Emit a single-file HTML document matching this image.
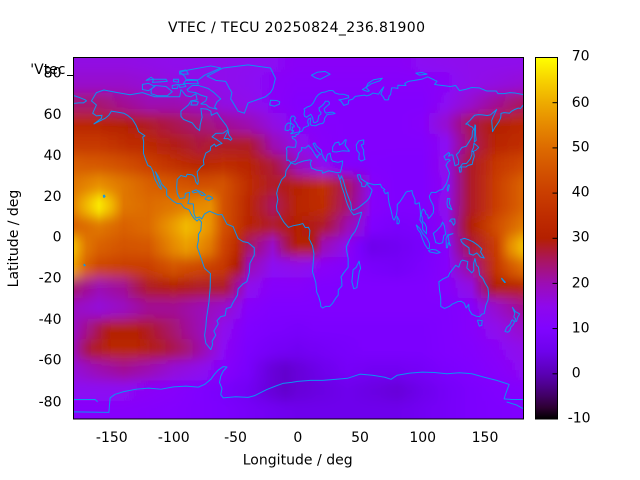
<!DOCTYPE html>
<html><head><meta charset="utf-8"><style>
html,body{margin:0;padding:0;background:#fff}
svg{display:block}
.c polygon,.c polyline{vector-effect:non-scaling-stroke}
</style></head><body>
<svg width="640" height="480" xmlns="http://www.w3.org/2000/svg" font-family="'DejaVu Sans','Liberation Sans',sans-serif" font-size="14" fill="#000">
<defs>
<clipPath id="pc"><rect x="74" y="58" width="449.5" height="361"/></clipPath>
<filter id="bl" filterUnits="userSpaceOnUse" x="40" y="20" width="520" height="440"><feGaussianBlur stdDeviation="0.3 6"/></filter>
<linearGradient id="g0" gradientUnits="userSpaceOnUse" x1="74.06" y1="0" x2="521.5" y2="0"><stop offset="0" stop-color="#9109e3"/><stop offset="11.11%" stop-color="#9109e3"/><stop offset="22.22%" stop-color="#8f08ec"/><stop offset="33.33%" stop-color="#8f08ec"/><stop offset="44.44%" stop-color="#8c07f3"/><stop offset="50%" stop-color="#8906f8"/><stop offset="72.22%" stop-color="#8906f8"/><stop offset="77.78%" stop-color="#8c07f3"/><stop offset="88.89%" stop-color="#8f08ec"/><stop offset="100%" stop-color="#8f08ec"/></linearGradient>
<linearGradient id="g1" gradientUnits="userSpaceOnUse" x1="74.06" y1="0" x2="521.5" y2="0"><stop offset="0" stop-color="#970bce"/><stop offset="11.11%" stop-color="#970bce"/><stop offset="16.67%" stop-color="#940ad9"/><stop offset="22.22%" stop-color="#9109e3"/><stop offset="33.33%" stop-color="#8f08ec"/><stop offset="44.44%" stop-color="#8906f8"/><stop offset="50%" stop-color="#8605fc"/><stop offset="77.78%" stop-color="#8605fc"/><stop offset="83.33%" stop-color="#8906f8"/><stop offset="88.89%" stop-color="#8f08ec"/><stop offset="94.44%" stop-color="#9109e3"/><stop offset="100%" stop-color="#940ad9"/></linearGradient>
<linearGradient id="g2" gradientUnits="userSpaceOnUse" x1="74.06" y1="0" x2="521.5" y2="0"><stop offset="0" stop-color="#a61474"/><stop offset="5.56%" stop-color="#a61474"/><stop offset="11.11%" stop-color="#a11096"/><stop offset="16.67%" stop-color="#9c0db4"/><stop offset="22.22%" stop-color="#9c0db4"/><stop offset="27.78%" stop-color="#9a0cc2"/><stop offset="33.33%" stop-color="#9109e3"/><stop offset="38.89%" stop-color="#8f08ec"/><stop offset="44.44%" stop-color="#8906f8"/><stop offset="50%" stop-color="#8305fe"/><stop offset="77.78%" stop-color="#8305fe"/><stop offset="83.33%" stop-color="#8c07f3"/><stop offset="88.89%" stop-color="#970bce"/><stop offset="94.44%" stop-color="#a11096"/><stop offset="100%" stop-color="#a91562"/></linearGradient>
<linearGradient id="g3" gradientUnits="userSpaceOnUse" x1="74.06" y1="0" x2="521.5" y2="0"><stop offset="0" stop-color="#bb2800"/><stop offset="5.56%" stop-color="#b92500"/><stop offset="11.11%" stop-color="#b42000"/><stop offset="16.67%" stop-color="#b01b28"/><stop offset="22.22%" stop-color="#ab174f"/><stop offset="27.78%" stop-color="#a61474"/><stop offset="33.33%" stop-color="#a11096"/><stop offset="38.89%" stop-color="#9c0db4"/><stop offset="44.44%" stop-color="#9109e3"/><stop offset="50%" stop-color="#8605fc"/><stop offset="61.11%" stop-color="#8305fe"/><stop offset="72.22%" stop-color="#8305fe"/><stop offset="77.78%" stop-color="#8605fc"/><stop offset="83.33%" stop-color="#970bce"/><stop offset="88.89%" stop-color="#ab174f"/><stop offset="94.44%" stop-color="#b42000"/><stop offset="100%" stop-color="#bb2800"/></linearGradient>
<linearGradient id="g4" gradientUnits="userSpaceOnUse" x1="74.06" y1="0" x2="521.5" y2="0"><stop offset="0" stop-color="#c63700"/><stop offset="5.56%" stop-color="#c63700"/><stop offset="11.11%" stop-color="#bf2d00"/><stop offset="16.67%" stop-color="#bb2800"/><stop offset="22.22%" stop-color="#b21e14"/><stop offset="27.78%" stop-color="#ad193c"/><stop offset="33.33%" stop-color="#b01b28"/><stop offset="38.89%" stop-color="#b01b28"/><stop offset="44.44%" stop-color="#9c0db4"/><stop offset="50%" stop-color="#8f08ec"/><stop offset="55.56%" stop-color="#8605fc"/><stop offset="61.11%" stop-color="#8305fe"/><stop offset="77.78%" stop-color="#8305fe"/><stop offset="83.33%" stop-color="#8c07f3"/><stop offset="88.89%" stop-color="#a91562"/><stop offset="94.44%" stop-color="#b92500"/><stop offset="100%" stop-color="#bf2d00"/></linearGradient>
<linearGradient id="g5" gradientUnits="userSpaceOnUse" x1="74.06" y1="0" x2="521.5" y2="0"><stop offset="0" stop-color="#d75c00"/><stop offset="5.56%" stop-color="#d55700"/><stop offset="11.11%" stop-color="#d14e00"/><stop offset="16.67%" stop-color="#ca3e00"/><stop offset="22.22%" stop-color="#c13000"/><stop offset="27.78%" stop-color="#b92500"/><stop offset="33.33%" stop-color="#bf2d00"/><stop offset="38.89%" stop-color="#b92500"/><stop offset="44.44%" stop-color="#ad193c"/><stop offset="50%" stop-color="#9a0cc2"/><stop offset="55.56%" stop-color="#8c07f3"/><stop offset="61.11%" stop-color="#8305fe"/><stop offset="72.22%" stop-color="#8004ff"/><stop offset="77.78%" stop-color="#8004ff"/><stop offset="83.33%" stop-color="#8f08ec"/><stop offset="88.89%" stop-color="#b01b28"/><stop offset="94.44%" stop-color="#c63700"/><stop offset="100%" stop-color="#ce4600"/></linearGradient>
<linearGradient id="g6" gradientUnits="userSpaceOnUse" x1="74.06" y1="0" x2="521.5" y2="0"><stop offset="0" stop-color="#e07700"/><stop offset="5.56%" stop-color="#e88f00"/><stop offset="11.11%" stop-color="#e07700"/><stop offset="16.67%" stop-color="#d96100"/><stop offset="22.22%" stop-color="#d55700"/><stop offset="27.78%" stop-color="#d14e00"/><stop offset="33.33%" stop-color="#d35300"/><stop offset="38.89%" stop-color="#bf2d00"/><stop offset="44.44%" stop-color="#b01b28"/><stop offset="50%" stop-color="#b72200"/><stop offset="55.56%" stop-color="#c13000"/><stop offset="61.11%" stop-color="#a91562"/><stop offset="66.67%" stop-color="#8605fc"/><stop offset="72.22%" stop-color="#8004ff"/><stop offset="77.78%" stop-color="#8004ff"/><stop offset="83.33%" stop-color="#8c07f3"/><stop offset="88.89%" stop-color="#b01b28"/><stop offset="94.44%" stop-color="#ca3e00"/><stop offset="100%" stop-color="#d96100"/></linearGradient>
<linearGradient id="g7" gradientUnits="userSpaceOnUse" x1="74.06" y1="0" x2="521.5" y2="0"><stop offset="0" stop-color="#e68900"/><stop offset="2.78%" stop-color="#f2ba00"/><stop offset="5.56%" stop-color="#fcec00"/><stop offset="8.33%" stop-color="#f2ba00"/><stop offset="11.11%" stop-color="#e07700"/><stop offset="16.67%" stop-color="#dd6b00"/><stop offset="22.22%" stop-color="#e07700"/><stop offset="27.78%" stop-color="#e68900"/><stop offset="30.56%" stop-color="#e88f00"/><stop offset="33.33%" stop-color="#d35300"/><stop offset="38.89%" stop-color="#bb2800"/><stop offset="44.44%" stop-color="#a91562"/><stop offset="50%" stop-color="#b92500"/><stop offset="55.56%" stop-color="#bf2d00"/><stop offset="61.11%" stop-color="#a61474"/><stop offset="66.67%" stop-color="#8605fc"/><stop offset="72.22%" stop-color="#8004ff"/><stop offset="77.78%" stop-color="#8004ff"/><stop offset="83.33%" stop-color="#8f08ec"/><stop offset="88.89%" stop-color="#b01b28"/><stop offset="94.44%" stop-color="#ca3e00"/><stop offset="100%" stop-color="#d96100"/></linearGradient>
<linearGradient id="g8" gradientUnits="userSpaceOnUse" x1="74.06" y1="0" x2="521.5" y2="0"><stop offset="0" stop-color="#d96100"/><stop offset="5.56%" stop-color="#e07700"/><stop offset="11.11%" stop-color="#d96100"/><stop offset="16.67%" stop-color="#dd6b00"/><stop offset="22.22%" stop-color="#eb9d00"/><stop offset="25%" stop-color="#f2ba00"/><stop offset="27.78%" stop-color="#eeab00"/><stop offset="30.56%" stop-color="#e88f00"/><stop offset="33.33%" stop-color="#d35300"/><stop offset="38.89%" stop-color="#b92500"/><stop offset="44.44%" stop-color="#b01b28"/><stop offset="50%" stop-color="#b42000"/><stop offset="55.56%" stop-color="#b01b28"/><stop offset="61.11%" stop-color="#9c0db4"/><stop offset="66.67%" stop-color="#8004ff"/><stop offset="72.22%" stop-color="#7903fc"/><stop offset="77.78%" stop-color="#7c03fe"/><stop offset="83.33%" stop-color="#8c07f3"/><stop offset="88.89%" stop-color="#b42000"/><stop offset="94.44%" stop-color="#d14e00"/><stop offset="100%" stop-color="#e07700"/></linearGradient>
<linearGradient id="g9" gradientUnits="userSpaceOnUse" x1="74.06" y1="0" x2="521.5" y2="0"><stop offset="0" stop-color="#f2ba00"/><stop offset="2.78%" stop-color="#e07700"/><stop offset="5.56%" stop-color="#d96100"/><stop offset="11.11%" stop-color="#d35300"/><stop offset="16.67%" stop-color="#d55700"/><stop offset="22.22%" stop-color="#e68900"/><stop offset="25%" stop-color="#eb9d00"/><stop offset="27.78%" stop-color="#e88f00"/><stop offset="30.56%" stop-color="#e07700"/><stop offset="33.33%" stop-color="#ce4600"/><stop offset="36.11%" stop-color="#bf2d00"/><stop offset="38.89%" stop-color="#a91562"/><stop offset="44.44%" stop-color="#970bce"/><stop offset="50%" stop-color="#b42000"/><stop offset="52.78%" stop-color="#b42000"/><stop offset="55.56%" stop-color="#9c0db4"/><stop offset="61.11%" stop-color="#8c07f3"/><stop offset="63.89%" stop-color="#7903fc"/><stop offset="66.67%" stop-color="#6e02ec"/><stop offset="72.22%" stop-color="#7202f3"/><stop offset="77.78%" stop-color="#7903fc"/><stop offset="83.33%" stop-color="#8605fc"/><stop offset="88.89%" stop-color="#ad193c"/><stop offset="94.44%" stop-color="#ca3e00"/><stop offset="97.22%" stop-color="#e68900"/><stop offset="100%" stop-color="#f2ba00"/></linearGradient>
<linearGradient id="g10" gradientUnits="userSpaceOnUse" x1="74.06" y1="0" x2="521.5" y2="0"><stop offset="0" stop-color="#eb9d00"/><stop offset="2.78%" stop-color="#d96100"/><stop offset="5.56%" stop-color="#ce4600"/><stop offset="11.11%" stop-color="#ca3e00"/><stop offset="16.67%" stop-color="#ca3e00"/><stop offset="22.22%" stop-color="#d35300"/><stop offset="27.78%" stop-color="#ce4600"/><stop offset="33.33%" stop-color="#c63700"/><stop offset="36.11%" stop-color="#b42000"/><stop offset="38.89%" stop-color="#9c0db4"/><stop offset="44.44%" stop-color="#8c07f3"/><stop offset="50%" stop-color="#8f08ec"/><stop offset="55.56%" stop-color="#8906f8"/><stop offset="61.11%" stop-color="#8305fe"/><stop offset="66.67%" stop-color="#7903fc"/><stop offset="72.22%" stop-color="#7602f8"/><stop offset="77.78%" stop-color="#7c03fe"/><stop offset="83.33%" stop-color="#8605fc"/><stop offset="88.89%" stop-color="#a11096"/><stop offset="94.44%" stop-color="#c63700"/><stop offset="97.22%" stop-color="#d35300"/><stop offset="100%" stop-color="#dd6b00"/></linearGradient>
<linearGradient id="g11" gradientUnits="userSpaceOnUse" x1="74.06" y1="0" x2="521.5" y2="0"><stop offset="0" stop-color="#a61474"/><stop offset="5.56%" stop-color="#9c0db4"/><stop offset="11.11%" stop-color="#a11096"/><stop offset="16.67%" stop-color="#b01b28"/><stop offset="22.22%" stop-color="#b42000"/><stop offset="27.78%" stop-color="#b01b28"/><stop offset="33.33%" stop-color="#b01b28"/><stop offset="36.11%" stop-color="#a11096"/><stop offset="38.89%" stop-color="#8f08ec"/><stop offset="44.44%" stop-color="#8605fc"/><stop offset="50%" stop-color="#8605fc"/><stop offset="55.56%" stop-color="#8004ff"/><stop offset="77.78%" stop-color="#8004ff"/><stop offset="83.33%" stop-color="#8605fc"/><stop offset="88.89%" stop-color="#9109e3"/><stop offset="94.44%" stop-color="#b42000"/><stop offset="100%" stop-color="#b92500"/></linearGradient>
<linearGradient id="g12" gradientUnits="userSpaceOnUse" x1="74.06" y1="0" x2="521.5" y2="0"><stop offset="0" stop-color="#9a0cc2"/><stop offset="5.56%" stop-color="#940ad9"/><stop offset="11.11%" stop-color="#9a0cc2"/><stop offset="16.67%" stop-color="#a11096"/><stop offset="22.22%" stop-color="#a11096"/><stop offset="27.78%" stop-color="#9c0db4"/><stop offset="33.33%" stop-color="#970bce"/><stop offset="38.89%" stop-color="#8605fc"/><stop offset="44.44%" stop-color="#8004ff"/><stop offset="83.33%" stop-color="#8004ff"/><stop offset="88.89%" stop-color="#8605fc"/><stop offset="94.44%" stop-color="#970bce"/><stop offset="100%" stop-color="#a11096"/></linearGradient>
<linearGradient id="g13" gradientUnits="userSpaceOnUse" x1="74.06" y1="0" x2="521.5" y2="0"><stop offset="0" stop-color="#9a0cc2"/><stop offset="4.17%" stop-color="#a61474"/><stop offset="8.33%" stop-color="#b42000"/><stop offset="13.89%" stop-color="#b42000"/><stop offset="19.44%" stop-color="#ab174f"/><stop offset="25%" stop-color="#a11096"/><stop offset="30.56%" stop-color="#970bce"/><stop offset="33.33%" stop-color="#8f08ec"/><stop offset="38.89%" stop-color="#8004ff"/><stop offset="44.44%" stop-color="#7c03fe"/><stop offset="50%" stop-color="#7903fc"/><stop offset="55.56%" stop-color="#7c03fe"/><stop offset="77.78%" stop-color="#7c03fe"/><stop offset="83.33%" stop-color="#8004ff"/><stop offset="88.89%" stop-color="#8605fc"/><stop offset="94.44%" stop-color="#8f08ec"/><stop offset="100%" stop-color="#970bce"/></linearGradient>
<linearGradient id="g14" gradientUnits="userSpaceOnUse" x1="74.06" y1="0" x2="521.5" y2="0"><stop offset="0" stop-color="#9c0db4"/><stop offset="4.17%" stop-color="#b01b28"/><stop offset="8.33%" stop-color="#b92500"/><stop offset="13.89%" stop-color="#b92500"/><stop offset="19.44%" stop-color="#b01b28"/><stop offset="25%" stop-color="#a61474"/><stop offset="30.56%" stop-color="#970bce"/><stop offset="33.33%" stop-color="#8c07f3"/><stop offset="38.89%" stop-color="#7c03fe"/><stop offset="44.44%" stop-color="#7602f8"/><stop offset="50%" stop-color="#7202f3"/><stop offset="55.56%" stop-color="#7602f8"/><stop offset="61.11%" stop-color="#7903fc"/><stop offset="66.67%" stop-color="#7c03fe"/><stop offset="77.78%" stop-color="#7c03fe"/><stop offset="83.33%" stop-color="#8004ff"/><stop offset="88.89%" stop-color="#8305fe"/><stop offset="94.44%" stop-color="#8906f8"/><stop offset="100%" stop-color="#8f08ec"/></linearGradient>
<linearGradient id="g15" gradientUnits="userSpaceOnUse" x1="74.06" y1="0" x2="521.5" y2="0"><stop offset="0" stop-color="#940ad9"/><stop offset="5.56%" stop-color="#9c0db4"/><stop offset="11.11%" stop-color="#a11096"/><stop offset="16.67%" stop-color="#9c0db4"/><stop offset="22.22%" stop-color="#940ad9"/><stop offset="27.78%" stop-color="#8f08ec"/><stop offset="33.33%" stop-color="#8605fc"/><stop offset="38.89%" stop-color="#7903fc"/><stop offset="44.44%" stop-color="#6701d9"/><stop offset="47.22%" stop-color="#6301ce"/><stop offset="50%" stop-color="#6701d9"/><stop offset="55.56%" stop-color="#6e02ec"/><stop offset="61.11%" stop-color="#7602f8"/><stop offset="66.67%" stop-color="#7202f3"/><stop offset="72.22%" stop-color="#7202f3"/><stop offset="77.78%" stop-color="#7602f8"/><stop offset="83.33%" stop-color="#7c03fe"/><stop offset="88.89%" stop-color="#8004ff"/><stop offset="94.44%" stop-color="#8605fc"/><stop offset="100%" stop-color="#8c07f3"/></linearGradient>
<linearGradient id="g16" gradientUnits="userSpaceOnUse" x1="74.06" y1="0" x2="521.5" y2="0"><stop offset="0" stop-color="#8c07f3"/><stop offset="11.11%" stop-color="#8c07f3"/><stop offset="16.67%" stop-color="#8906f8"/><stop offset="22.22%" stop-color="#8605fc"/><stop offset="27.78%" stop-color="#8004ff"/><stop offset="33.33%" stop-color="#7903fc"/><stop offset="38.89%" stop-color="#7202f3"/><stop offset="44.44%" stop-color="#6701d9"/><stop offset="47.22%" stop-color="#6301ce"/><stop offset="50%" stop-color="#6701d9"/><stop offset="55.56%" stop-color="#6b01e3"/><stop offset="61.11%" stop-color="#6e02ec"/><stop offset="66.67%" stop-color="#6b01e3"/><stop offset="72.22%" stop-color="#6701d9"/><stop offset="77.78%" stop-color="#6e02ec"/><stop offset="83.33%" stop-color="#7602f8"/><stop offset="88.89%" stop-color="#7c03fe"/><stop offset="94.44%" stop-color="#8004ff"/><stop offset="100%" stop-color="#8305fe"/></linearGradient>
<linearGradient id="g17" gradientUnits="userSpaceOnUse" x1="74.06" y1="0" x2="521.5" y2="0"><stop offset="0" stop-color="#8605fc"/><stop offset="11.11%" stop-color="#8605fc"/><stop offset="22.22%" stop-color="#8305fe"/><stop offset="33.33%" stop-color="#7c03fe"/><stop offset="44.44%" stop-color="#7202f3"/><stop offset="50%" stop-color="#6e02ec"/><stop offset="72.22%" stop-color="#6e02ec"/><stop offset="77.78%" stop-color="#7202f3"/><stop offset="88.89%" stop-color="#7c03fe"/><stop offset="100%" stop-color="#8004ff"/></linearGradient>
<linearGradient id="cb" x1="0" y1="1" x2="0" y2="0"><stop offset="0" stop-color="#000000"/><stop offset="3.125%" stop-color="#2d0032"/><stop offset="6.25%" stop-color="#400062"/><stop offset="9.375%" stop-color="#4e008e"/><stop offset="12.5%" stop-color="#5a00b4"/><stop offset="18.75%" stop-color="#6e02ec"/><stop offset="25%" stop-color="#8004ff"/><stop offset="31.25%" stop-color="#8f08ec"/><stop offset="37.5%" stop-color="#9c0db4"/><stop offset="43.75%" stop-color="#a91562"/><stop offset="46.875%" stop-color="#af1a32"/><stop offset="50%" stop-color="#b42000"/><stop offset="53.125%" stop-color="#ba2600"/><stop offset="56.25%" stop-color="#bf2d00"/><stop offset="62.5%" stop-color="#ca3e00"/><stop offset="68.75%" stop-color="#d35300"/><stop offset="75%" stop-color="#dd6b00"/><stop offset="81.25%" stop-color="#e68900"/><stop offset="87.5%" stop-color="#eeab00"/><stop offset="93.75%" stop-color="#f7d200"/><stop offset="100%" stop-color="#ffff00"/></linearGradient>
</defs>
<rect width="640" height="480" fill="#fff"/>

<text x="168" y="32" textLength="257" lengthAdjust="spacing">VTEC / TECU 20250824_236.81900</text>

<g clip-path="url(#pc)">
<g filter="url(#bl)">
<rect x="50" y="30" width="500" height="42.6" fill="url(#g0)"/>
<rect x="50" y="72.1" width="500" height="21" fill="url(#g1)"/>
<rect x="50" y="92.65" width="500" height="21" fill="url(#g2)"/>
<rect x="50" y="113.2" width="500" height="21" fill="url(#g3)"/>
<rect x="50" y="133.75" width="500" height="21" fill="url(#g4)"/>
<rect x="50" y="154.3" width="500" height="21" fill="url(#g5)"/>
<rect x="50" y="174.85" width="500" height="21" fill="url(#g6)"/>
<rect x="50" y="195.4" width="500" height="21" fill="url(#g7)"/>
<rect x="50" y="215.95" width="500" height="21" fill="url(#g8)"/>
<rect x="50" y="236.5" width="500" height="21" fill="url(#g9)"/>
<rect x="50" y="257.05" width="500" height="21" fill="url(#g10)"/>
<rect x="50" y="277.6" width="500" height="21" fill="url(#g11)"/>
<rect x="50" y="298.15" width="500" height="21" fill="url(#g12)"/>
<rect x="50" y="318.7" width="500" height="21" fill="url(#g13)"/>
<rect x="50" y="339.25" width="500" height="21" fill="url(#g14)"/>
<rect x="50" y="359.8" width="500" height="21" fill="url(#g15)"/>
<rect x="50" y="380.35" width="500" height="21" fill="url(#g16)"/>
<rect x="50" y="400.9" width="500" height="40" fill="url(#g17)"/>
</g>
<g class="c" transform="translate(297.8,236.5) scale(1.243,-2.055)" fill="none" stroke="#0a94f2" stroke-width="1" stroke-linejoin="round">
<polygon points="-165,60 -162,64 -166,66 -162,70 -156,71.3 -145,70 -135,69 -125,70 -115,68 -105,68 -95,68 -94,71.5 -90,68.5 -86,68 -82,69.5 -81,66.5 -86,66 -88,64 -94,61 -94,58.5 -92,57 -85,55.3 -82,53 -79,51.5 -78.5,54.5 -77,58 -78,62.3 -73,62 -70,61 -69.5,59 -65,60.3 -62,57.5 -57.5,54 -56,52 -60,50.3 -66,50.2 -69,48.5 -64.8,47 -61,45.3 -63.5,44.7 -66,43.8 -67,45 -70,43.7 -70.5,41.8 -74,40.6 -76,37 -75.5,35 -78,33.8 -81,31.5 -80,27 -80.5,25.3 -82,26.5 -83,29 -85,30 -89,30.3 -90,29 -94,29.7 -97,27.8 -97.5,24 -97,21 -95,18.5 -91,18.8 -90.5,21 -87,21.5 -87.5,18 -88.5,16 -84,15.8 -83.5,11 -82,9 -79,9.5 -77.3,8.5 -75,11 -71,12.3 -64,10.5 -61,10.7 -57,6 -52,4.8 -50,1.8 -48,-1 -44,-2.5 -40,-3 -35,-5.5 -35,-9 -38.5,-13 -39,-17.5 -41,-22 -44,-23 -48,-25.5 -48.5,-28.5 -52,-32 -54,-34.5 -57.5,-35 -58.5,-38.5 -62,-39 -65,-41 -64,-42.5 -67.5,-46 -66,-48 -69,-51 -68.5,-52.5 -70,-55 -74,-52 -75,-48 -74,-44 -73.5,-40 -71.5,-32 -70.5,-25 -70.3,-18 -75,-15.5 -77,-12 -79.5,-7.5 -81,-5 -80,-2 -80,1 -78,3 -77.5,7 -79.5,8.5 -81,7.5 -83,8.5 -85.5,10.5 -87.5,13 -91.5,14 -94,16 -97,16 -101,17.5 -105.5,20 -105.5,23 -109.5,25.5 -112,29 -114.5,31.5 -113,29 -110,24 -110,23 -112,24.5 -115,28 -116.7,32 -118.5,34 -120.6,34.6 -122.5,37.5 -124.2,40.5 -124,46 -124.7,48.4 -123,49 -128,51 -130,54 -133,57 -137,59 -140,60 -145,60.5 -150,61 -152,59 -155,57.5 -160,56 -164,54.8 -158,57.5 -157.5,59 -162,58.7"/>
<polygon points="-73,78 -60,82 -40,83.5 -22,82 -18,77 -20,72 -22,70 -26,68 -33,66.5 -40,65 -43,60 -48,61 -52,65 -54,67 -53,70 -55,72 -58,75.5 -66,76"/>
<polygon points="-80,73.5 -72,72 -68,70.3 -62,67 -65,65.5 -67,63 -65,62 -71,62.8 -74,64.3 -78,64.5 -74,66 -73,67.9 -78,68.8 -82,70 -88,70.5 -89,71.5 -85,73.5"/>
<polygon points="-118,71.5 -115,73.5 -106,73 -101,70.5 -105,68.5 -113,68.5 -118,69.5"/>
<polygon points="-90,76.5 -80,76.2 -75,78.5 -62,82 -70,83 -88,81 -95,80 -91,78"/>
<polygon points="-92,74.5 -80,74.3 -81,76 -90,76"/>
<polygon points="-125,71.5 -120,71 -115,73 -120,74.5 -125,74"/>
<polygon points="-86,64 -81,64 -80,65.5 -85,66"/>
<polygon points="-101,72 -97,72 -96,74 -101,73.5"/>
<polygon points="-117,75 -105,75.5 -106,76.5 -116,76.5"/>
<polygon points="-100,75.5 -96,75 -96,76.5 -100,76.5"/>
<polygon points="-95,72.5 -90,73 -91,74 -95,74"/>
<polygon points="-95,79 -88,79 -90,81 -95,80.5"/>
<polygon points="-122,76 -116,76.5 -118,77.5"/>
<polygon points="-59.4,47.6 -56,51.5 -55.5,49.5 -53,47.5 -54,46.8 -56,47.6"/>
<polygon points="-85,21.9 -82,22.7 -77,21.5 -74.2,20.2 -77.5,19.9 -80,21.8 -84,21.2"/>
<polygon points="-74.5,18.4 -72,19.9 -69,19.1 -68.4,18.5 -71.4,17.6 -74.4,18.1"/>
<polygon points="-156,19 -155,19.5 -155.8,20.2 -156.5,19.8"/>
<polygon points="-172,-13.5 -171,-14 -171.8,-14.3"/>
<polygon points="-5.6,36 -2,36.7 0,38.7 0.5,40.5 3.2,42 3,43.3 6,43 8.5,44.3 10.5,43 12,41.8 15.6,38.2 16.5,39.5 18.4,40 16,41.4 13.5,43.6 12.3,45.3 13.7,45.5 15,44 19,42 19.5,40 21,38 22.8,36.5 23,38 24,40 26,40.5 26.2,39.5 27,37.5 28,36.7 30.5,36.3 32.5,36.1 36,36.8 35.8,35 35,33 34.3,31.3 32,31 30,31.3 25,32 20,30.8 19.5,32 15,32.3 11,33.3 10,35.5 11,37 9.8,37.3 5,36.8 0,35.8 -2,35.1 -5.5,35.8 -6.3,35 -9.5,32 -10,29.5 -13,27.7 -16,23.5 -17,21 -16,18 -17.2,14.7 -16.7,12.5 -15,11 -13.3,9 -11,6.8 -7.5,4.4 -4,5.2 1,5.8 4,6.3 6,4.3 8.5,4.5 9.7,3 9.5,1 9,-1 11.8,-4.5 13,-8.5 12.3,-13.5 11.8,-17 14.5,-22.5 15.2,-27 17,-29.5 18.3,-32.5 18.5,-34 20,-34.8 22.5,-34 25.6,-34 28,-32.5 30.5,-30 32.5,-28.5 32.6,-26 35.5,-24 35.3,-21 34.7,-19.8 36.8,-17.8 40.5,-15 40.5,-10.5 39.3,-7 39,-5 41.6,-1.7 43.5,0.5 46,2.4 48,5 50.8,10.3 51.3,11.8 48.5,11.3 45,10.5 43.3,11.8 42,13 40,15.5 38.5,18.3 37.3,21 35.5,24 34,27.5 32.5,30 33.7,27.8 34.3,28.1 35,29.5 36.5,27.5 39,22 40.5,19.5 42.7,16 43.3,13 45,12.8 48.7,14 52,15.6 55.3,17.2 57.7,18.9 59.8,22.5 58.5,23.6 56.4,24.9 56,26.3 54,24.2 51.6,24.3 51.2,26.1 50,26.7 48.5,28.5 48,30 50,30.1 51,28 54.5,26.6 57,25.9 61.5,25.2 66.5,25.4 67.5,23.9 68.5,23.5 70,22.8 69,22.3 70.5,20.8 72.6,21.5 72.8,19 73.5,16 75,12.7 76.5,8.8 77.5,8 78.3,9 79.3,10.3 80,13 80,15.5 82.3,17 85,19.5 87,21.5 88.5,22 90,22 91.8,22.4 92.3,20.7 94.3,18 94.3,16 95.4,15.8 97.7,16.5 98.5,13 98.7,10.5 98.3,8 100.3,6 100.5,3.5 101.3,2.8 103.5,1.3 103.5,4.5 102.3,6.2 100.4,7.3 100,9.5 99.2,10.5 100,12.6 100.9,13.4 102.5,12.3 103,11 104.5,10.4 105,8.7 106.5,9.5 109,11.5 109.3,13.5 108.8,15.3 106.5,18 105.8,19.5 106.7,20.7 107.5,21.5 109.7,21.5 111,21.4 113.8,22.5 116.5,22.9 119.6,25.7 121,28.3 122,30.8 121,32.5 119.2,34.6 120.7,36.2 122.5,37 121,37.7 119,37.2 118.2,38.3 117.6,39 119.5,39.9 121.4,40.9 122.2,40.4 121.3,39 123.5,39.8 124.7,39.6 125.3,37.7 126.5,34.4 129.3,35.2 129.5,37 128.4,38.6 127.5,39.8 129.7,41.1 130.7,42.3 132,43.3 135.5,43.9 138.2,46.5 140.2,48.5 140.5,51.2 141.4,52.2 140.5,53.2 137.8,54 137,54.7 135.1,54.7 138.2,56.3 142.2,59 145.5,59.3 148.5,59.2 152.3,58.9 155,59.2 160,61.8 157,58 156,56.5 156.7,51 158.5,53 160,54.3 162,56.1 163.3,58 163.5,59.9 166,60.3 170.3,60 172,61 174.5,61.8 177.4,62.5 179.2,62.3 182,64.5 182,69 175,69.8 170.5,70 166,69.5 161,69.5 159.7,70.8 152,70.8 146,72.3 140,72.5 135,71.6 130,71 127,73.5 122.8,73 113,73.7 110,74 112,75.5 108,76.7 104.5,77.7 99.5,76.5 94,76 89,75.5 86,74.5 87,73.5 80.5,73.6 80.5,72.1 78,72.3 75.5,72.3 74.6,69 73.5,68.4 72.8,66.5 70,66.5 68.5,68.1 66.8,69.3 68.5,71.9 69.2,72.8 66.7,71 65,69.3 60.5,69.8 58,68.9 55.4,68.4 53.7,68.8 46.2,68.2 44,66.8 41,66.3 40.5,64.5 37,63.8 34.8,65.9 33,66.5 36,66.8 41,67.5 40.7,68.5 37,69.2 33,69.3 30,69.8 28.2,71 25,71 22,70.3 19,70 16.5,69 14.8,67.8 13.5,66.3 12.4,65 11,64 9.5,63.4 7.5,63 5,62 5.5,61.3 5,59.5 5.6,58.5 7,58 10.4,59.5 11,58.9 12,57.9 12.3,56.3 12.9,55.4 14.1,55.4 16,56.1 16.5,57.5 16.8,58.7 18.5,59.5 18.7,60.3 17.4,61.2 17,62.5 19.2,63.5 21.2,64.7 22.2,65.8 24.5,65.8 25.4,65.1 25.4,64.4 23.3,63.4 21.2,62.2 21.5,61 22.8,60 25.5,60.4 28,60.5 30,59.9 28.3,59.6 24.5,59.4 23.4,59.2 21.5,57.4 21.2,56 20,55 17.6,54.8 14.3,53.9 11,54 9.9,54.9 10.5,57.7 8.5,57.1 8.1,56.4 8,55.5 8.8,54 7,53.5 4.7,52.9 3.5,51.3 1.7,50.9 0,49.7 -1.3,49.6 -1.8,48.6 -4.6,48.6 -4.3,47.8 -2,47 -1.2,46 -1.8,43.5 -4,43.4 -8,43.7 -9.3,43 -8.8,41.9 -8.9,38.8 -8.8,37 -7.4,37.2 -6,36.2"/>
<polyline points="-182,68.9 -175,67.5 -171,66.5 -170,66 -172.5,65 -176,65 -180,64.8 -182,64.5"/>
<polygon points="28,41.3 28,43.5 30,45.5 33,46 33.5,44.5 36,45.3 38,47 39,47 38,44.5 41.5,41.5 36,41.7 31,41.1"/>
<polygon points="47,44.5 49,46.5 53,47 53,45 51,44.5 53,42 53,40 54,37.5 51,36.7 49,37.7 49.5,40.5 47.5,42"/>
<polygon points="-5.7,50 1.5,51 1.7,52.7 0,53.5 -0.5,54.5 -2,55.9 -3,56.5 -1.8,57.6 -3.1,58.6 -5,58.6 -6.2,57 -5.6,55.3 -4.8,54.8 -3,54 -3,53.3 -4.6,53.3 -4.2,52.3 -5.2,51.7 -3.3,51.4"/>
<polygon points="-6,52.2 -6.2,53.8 -5.6,54.8 -7,55.3 -8.5,55 -10,53.7 -10.3,51.8 -8,51.5"/>
<polygon points="-22.5,64 -22,66.3 -17,66.2 -14.5,65.5 -14.9,64.4 -18.7,63.4"/>
<polygon points="11,78.5 16,80 22,80.3 26,79 18,76.5 14,77.3"/>
<polygon points="52,71.5 56,70.6 57.5,70.8 55,72.5 56.5,74.5 61,76.3 68,77 66,75.8 59,74.3 56,73"/>
<polygon points="95,79.5 100,79.8 104,79 98,78.5"/>
<polygon points="130.9,34 132.5,35.4 135.8,35.6 138.8,37.8 140.1,40 140,41.4 141.4,41.3 142,39 140.9,36.9 140.3,35.1 137,34.6 135.2,33.8 132,33.9"/>
<polygon points="129.7,33.6 131.7,33.8 131.3,31.4 130.3,31.3"/>
<polygon points="140,41.6 141,41.4 143.3,42 145.5,43.3 144.5,44 141.7,45.4 141.4,43.3"/>
<polygon points="142,46 143.5,46.8 143,49.5 143,54 142.5,54.3 142,51"/>
<polygon points="120.1,23 121,25.1 122,25 120.8,22"/>
<polygon points="120.5,18.5 122.3,18.4 122,16 124,13 121.7,13.9 120.6,14.3 120,16"/>
<polygon points="122,7.5 123.5,8.5 126.3,8.5 126.5,6.5 125.3,5.5 123.5,7.5"/>
<polygon points="79.8,6.2 79.9,9.8 81.8,7.5 81.2,6.2"/>
<polygon points="49.3,-12 50.5,-15.5 49.5,-17 47.5,-24.9 45,-25.4 43.5,-22 44.5,-16.2 47,-15"/>
<polygon points="95.3,5.6 98,4 100.5,1.5 104,-1 106,-3.5 105.8,-5.8 104.5,-5.9 102.3,-4 100.5,-1.5 98.7,1.7 96.5,3.5"/>
<polygon points="105.2,-6.8 108,-6.3 111,-6.5 114.5,-7.8 112,-8.2 108.3,-7.8 106,-7.5"/>
<polygon points="109,1.5 111,-3 114,-3.5 116.5,-3 117.5,0.5 119,1 118,5 116.5,7 115,5 112,3 110,2"/>
<polygon points="119.5,-5.5 119.3,-1 120.5,0.5 124.8,1.4 120.8,0.8 121.2,-1.5 122.8,-4.5 121,-3 120.4,-5.5"/>
<polygon points="131,-1.5 134,-0.9 137,-1.5 141,-2.6 145,-4.3 148,-6 147,-7.5 150,-10.5 147,-10 144,-8 141,-9.1 138,-8.4 137.7,-5.5 134,-4 132,-2.8"/>
<polygon points="113.5,-22 114,-26 115,-30 115,-34 118,-35 122,-34 124,-33 129,-31.6 131.5,-31.5 134,-32.5 135.5,-34.8 137.5,-33 137.8,-35.6 140,-37.8 143.5,-38.8 146.3,-39 148,-37.8 150,-37.5 151.3,-33.5 153,-31 153.5,-28 153,-25 150.5,-22.5 149,-20.5 146.3,-18.8 145.3,-14.9 143.7,-14 142.5,-10.7 141.5,-13 141.6,-16.5 140,-17.7 136,-15.3 136.8,-12.2 132.5,-11.5 131,-12.2 129.5,-14.9 127,-14 125.2,-15.5 122.2,-17.8 121,-19.5 117,-20.6 114,-21.8"/>
<polygon points="144.7,-40.7 148.3,-40.9 148,-43.2 146,-43.6 144.7,-41.2"/>
<polygon points="172.7,-34.5 175,-36.5 178.5,-37.7 177,-39.2 176,-41.3 174.6,-41.2 175.2,-40 173.8,-39.2 174.6,-37.3"/>
<polygon points="172.7,-40.5 174.3,-41.7 173.2,-43 171.3,-44.2 170.5,-45.9 169,-46.6 166.7,-46.2 168,-44.2 170.5,-43 172,-41"/>
<polygon points="164,-20.3 167,-22.3 166.5,-22.4 164,-20.6"/>
<polyline points="-182,-85.3 -152,-85.6 -151,-78.5 -147,-76.8 -140,-75.5 -130,-74.3 -120,-73.8 -110,-74.3 -100,-73.2 -90,-72.8 -80,-73.3 -75,-72 -70,-69.5 -67,-67 -64,-65 -60,-63.3 -57,-63.5 -60,-65.5 -62,-68 -63,-71 -61,-74 -62,-77 -60,-78.5 -50,-78 -40,-78.3 -35,-77.5 -30,-76 -25,-74.5 -18,-72.8 -12,-71.5 -5,-71 0,-70.5 10,-70 20,-70 30,-69.5 40,-69 50,-67 60,-67.5 70,-68.5 75,-69.5 80,-67.5 90,-66.5 100,-66 110,-66.2 120,-66.8 130,-66.3 140,-66.8 150,-68.5 160,-70 165,-71 170,-72 167,-77 166,-79 172,-79.3 182,-79.3"/>
<polyline points="-182,-79.3 -163,-79.3 -161,-80.5"/>
<polyline points="168,-80.5 176,-82 182,-84"/>
</g>
</g>
<rect x="73.5" y="57.5" width="450" height="361.5" fill="none" stroke="#000" stroke-width="1"/>

<text x="65.5" y="74" text-anchor="end">'Vtec</text>
<line x1="67" y1="75.5" x2="74" y2="75.5" stroke="#000" stroke-width="1"/>

<g text-anchor="end">
<text x="61.5" y="77.5">80</text>
<text x="61.5" y="119">60</text>
<text x="61.5" y="160">40</text>
<text x="61.5" y="201">20</text>
<text x="61.5" y="241.5">0</text>
<text x="61.5" y="282.7">-20</text>
<text x="61.5" y="324">-40</text>
<text x="61.5" y="364.3">-60</text>
<text x="61.5" y="406.7">-80</text>
</g>
<g text-anchor="middle">
<text x="111.8" y="442">-150</text>
<text x="173.8" y="442">-100</text>
<text x="235.5" y="442">-50</text>
<text x="297.8" y="442">0</text>
<text x="360" y="442">50</text>
<text x="422.7" y="442">100</text>
<text x="485" y="442">150</text>
<text x="297.7" y="464.5" textLength="110" lengthAdjust="spacing">Longitude / deg</text>
<text transform="translate(18,238.5) rotate(-90)">Latitude / deg</text>
</g>

<rect x="535.5" y="57.5" width="22" height="361.5" fill="url(#cb)" stroke="#000" stroke-width="1"/>
<g stroke="#000" stroke-width="1">
<line x1="552.5" y1="102.7" x2="557.5" y2="102.7"/>
<line x1="552.5" y1="147.9" x2="557.5" y2="147.9"/>
<line x1="552.5" y1="193.1" x2="557.5" y2="193.1"/>
<line x1="552.5" y1="238.3" x2="557.5" y2="238.3"/>
<line x1="552.5" y1="283.4" x2="557.5" y2="283.4"/>
<line x1="552.5" y1="328.6" x2="557.5" y2="328.6"/>
<line x1="552.5" y1="373.8" x2="557.5" y2="373.8"/>
</g>
<g>
<text x="571.7" y="60.7">70</text>
<text x="571.7" y="107">60</text>
<text x="571.7" y="151.7">50</text>
<text x="571.7" y="196.7">40</text>
<text x="571.7" y="241.7">30</text>
<text x="571.7" y="287.3">20</text>
<text x="571.7" y="332.3">10</text>
<text x="571.7" y="377.3">0</text>
<text x="567.7" y="422.7">-10</text>
</g>
</svg>
</body></html>
